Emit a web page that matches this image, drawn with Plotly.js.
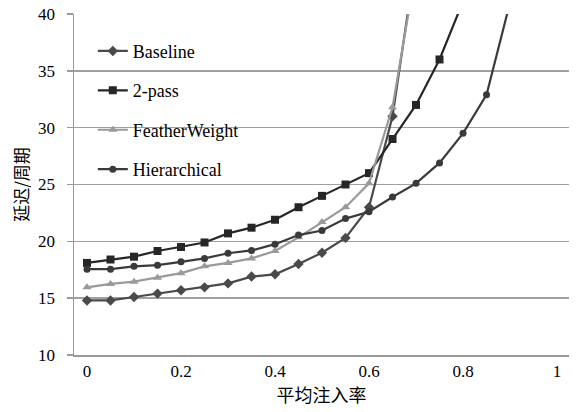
<!DOCTYPE html>
<html>
<head>
<meta charset="utf-8">
<script src="https://cdn.plot.ly/plotly-3.0.1.min.js"></script>
<style>html,body{margin:0;padding:0;background:#fff;}#chart{width:580px;height:412px;}</style>
</head>
<body>
<div id="chart"></div>
<script>
var seriesNames = ["Baseline", "2-pass", "FeatherWeight", "Hierarchical"];
var xBaseline = [0,0.05,0.1,0.15,0.2,0.25,0.3,0.35,0.4,0.45,0.5,0.55,0.6,0.65,0.7];
var yBaseline = [14.8,14.8,15.1,15.4,15.7,15.95,16.3,16.9,17.1,18.0,19.0,20.3,23.0,31.0,45.0];
var x2pass = [0,0.05,0.1,0.15,0.2,0.25,0.3,0.35,0.4,0.45,0.5,0.55,0.6,0.65,0.7,0.75,0.8];
var y2pass = [18.1,18.4,18.65,19.15,19.5,19.9,20.7,21.2,21.9,23.0,24.0,25.0,26.0,29.0,32.0,36.0,41.1];
var xFeather = [0,0.05,0.1,0.15,0.2,0.25,0.3,0.35,0.4,0.45,0.5,0.55,0.6,0.65,0.7];
var yFeather = [15.95,16.25,16.45,16.8,17.2,17.8,18.1,18.5,19.15,20.35,21.7,23.0,25.1,31.8,44.0];
var xHier = [0,0.05,0.1,0.15,0.2,0.25,0.3,0.35,0.4,0.45,0.5,0.55,0.6,0.65,0.7,0.75,0.8,0.85,0.9];
var yHier = [17.55,17.55,17.8,17.9,18.2,18.5,18.95,19.2,19.75,20.55,20.95,22.0,22.6,23.9,25.1,26.9,29.5,32.9,41.0];
var xTicks = [0,0.2,0.4,0.6,0.8,1];
var xTickText = ["0","0.2","0.4","0.6","0.8","1"];
var yTicks = [10,15,20,25,30,35,40];

var serif = "Liberation Serif, Times New Roman, serif";
var cjk = "Noto Sans CJK SC";
function tr(name, x, y, color, symbol, size, group) {
  return {
    type: "scatter", mode: "lines+markers", name: name, x: x, y: y,
    legendgroup: group,
    line: {color: color, width: 2.2},
    marker: {color: color, symbol: symbol, size: size, line: {width: 0}},
    cliponaxis: true
  };
}
var data = [
  tr(seriesNames[0], xBaseline, yBaseline, "#4a4a4a", "diamond", 8, "a"),
  tr(seriesNames[1], x2pass, y2pass, "#262626", "square", 8, "b"),
  tr(seriesNames[2], xFeather, yFeather, "#9a9a9a", "triangle-up", 8, "c"),
  tr(seriesNames[3], xHier, yHier, "#3a3a3a", "circle", 7, "d")
];
var layout = {
  width: 580, height: 412,
  margin: {l: 74, r: 11, t: 14, b: 57},
  paper_bgcolor: "#fff", plot_bgcolor: "#fff",
  showlegend: true,
  legend: {
    x: 0.038, y: 0.945, xanchor: "left", yanchor: "top",
    bgcolor: "rgba(0,0,0,0)", borderwidth: 0,
    font: {family: serif, size: 18, color: "#000"},
    traceorder: "grouped", tracegroupgap: 13
  },
  xaxis: {
    range: [-0.0277, 1.0255], tickvals: xTicks, ticktext: xTickText,
    showgrid: false, zeroline: false, showline: true, linecolor: "#9a9a9a", linewidth: 1.5,
    ticks: "", tickfont: {family: serif, size: 17, color: "#000"},
    title: {text: "平均注入率", font: {family: cjk, size: 18, color: "#000"}, standoff: 9}
  },
  yaxis: {
    range: [10, 40], tickvals: yTicks,
    showgrid: true, gridcolor: "#a0a0a0", gridwidth: 1.5,
    zeroline: false, showline: true, linecolor: "#9a9a9a", linewidth: 1.5,
    ticks: "outside", ticklen: 6, tickcolor: "#9a9a9a", tickwidth: 1.5,
    ticklabelstandoff: 8,
    tickfont: {family: serif, size: 17, color: "#000"},
    title: {text: "延迟/周期", font: {family: cjk, size: 17, color: "#000"}, standoff: 5}
  }
};
Plotly.newPlot("chart", data, layout, {displayModeBar: false, staticPlot: true});
</script>
</body>
</html>
